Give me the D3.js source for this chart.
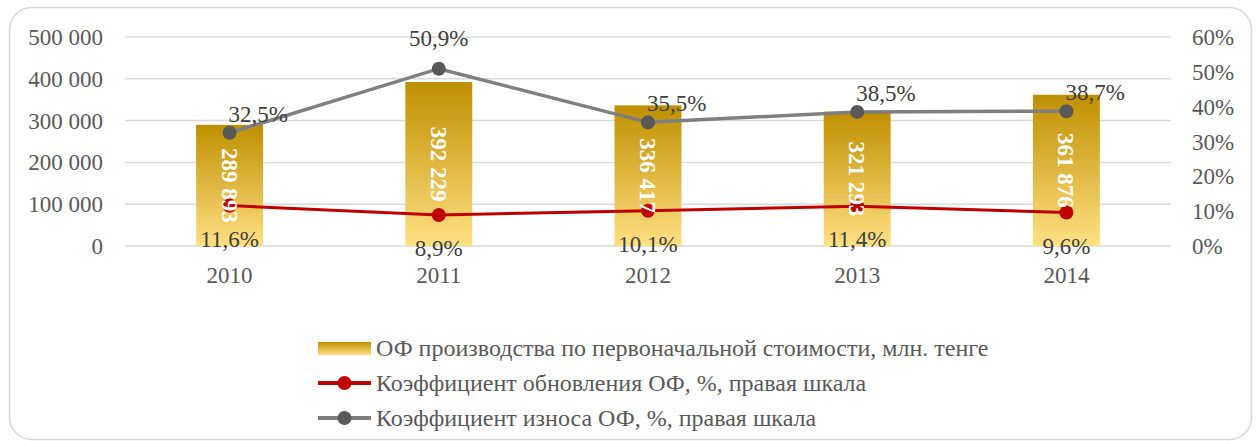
<!DOCTYPE html>
<html>
<head>
<meta charset="utf-8">
<script src="https://cdn.jsdelivr.net/npm/d3@7"></script>
<style>
  body { margin: 0; background: #fff; }
</style>
</head>
<body>
<div id="plot"></div>
<script>
var years = ['2010', '2011', '2012', '2013', '2014'];
var fundValues = [289893, 392229, 336417, 321293, 361876];
var renewRate = [11.6, 8.9, 10.1, 11.4, 9.6];
var wearRate = [32.5, 50.9, 35.5, 38.5, 38.7];
var leftTicks = [0, 100000, 200000, 300000, 400000, 500000];
var rightTicks = [0, 10, 20, 30, 40, 50, 60];
var legendLabels = ['ОФ производства по первоначальной стоимости, млн. тенге',
  'Коэффициент обновления ОФ, %, правая шкала',
  'Коэффициент износа ОФ, %, правая шкала'];
var wearAnchor = ['start', 'middle', 'start', 'start', 'start'];

var FONT = "'Liberation Serif'";
var W = 1257, H = 441;
var svg = d3.select('#plot').append('svg').attr('width', W).attr('height', H);

// рамка
svg.append('rect')
  .attr('x', 9.5).attr('y', 7.5)
  .attr('width', 1242).attr('height', 432)
  .attr('rx', 22).attr('ry', 22)
  .style('fill', '#fff').style('stroke', '#d9d9d9').style('stroke-width', 1.5);

var defs = svg.append('defs');
var grad = defs.append('linearGradient').attr('id', 'gold')
  .attr('x1', 0).attr('y1', 0).attr('x2', 0).attr('y2', 1);
grad.append('stop').attr('offset', '0%').attr('stop-color', '#bf8f00');
grad.append('stop').attr('offset', '100%').attr('stop-color', '#ffe083');

var x = d3.scaleBand().domain(years).range([125, 1171]).paddingInner(0.68).paddingOuter(0.34);
var yL = d3.scaleLinear().domain([0, 500000]).range([246, 37]);
var yR = d3.scaleLinear().domain([0, 60]).range([246, 37]);
var cx = function(d) { return x(d) + x.bandwidth() / 2; };
var fmt = function(v) { return d3.format(',')(v).replace(/,/g, ' '); };
var pct = function(v) { return v.toFixed(1).replace('.', ',') + '%'; };

// сетка
svg.selectAll('line.grid')
  .data(leftTicks).enter().append('line')
  .attr('class', 'grid')
  .attr('x1', 125).attr('x2', 1171)
  .attr('y1', function(d) { return yL(d); })
  .attr('y2', function(d) { return yL(d); })
  .style('stroke', '#d9d9d9').style('stroke-width', 1.5);

// оси
svg.selectAll('text.yl')
  .data(leftTicks).enter().append('text')
  .attr('x', 103).attr('y', function(d) { return yL(d); })
  .attr('dy', '0.35em').attr('text-anchor', 'end')
  .style('font-family', FONT).style('font-size', '23px').style('fill', '#595959')
  .text(function(d) { return fmt(d); });

svg.selectAll('text.yr')
  .data(rightTicks).enter().append('text')
  .attr('x', 1192).attr('y', function(d) { return yR(d); })
  .attr('dy', '0.35em').attr('text-anchor', 'start')
  .style('font-family', FONT).style('font-size', '23px').style('fill', '#595959')
  .text(function(d) { return d + '%'; });

svg.selectAll('text.xl')
  .data(years).enter().append('text')
  .attr('x', cx).attr('y', 283)
  .attr('text-anchor', 'middle')
  .style('font-family', FONT).style('font-size', '23px').style('fill', '#595959')
  .text(function(d) { return d; });

// столбцы
svg.selectAll('rect.bar')
  .data(fundValues).enter().append('rect')
  .attr('class', 'bar')
  .attr('x', function(d, i) { return x(years[i]); })
  .attr('width', x.bandwidth())
  .attr('y', function(d) { return yL(d); })
  .attr('height', function(d) { return yL(0) - yL(d); })
  .style('fill', 'url(#gold)');

// линии
var lineR = d3.line().x(function(d, i) { return cx(years[i]); }).y(function(d) { return yR(d); });

svg.append('path').datum(wearRate).attr('d', lineR)
  .style('fill', 'none').style('stroke', '#7f7f7f').style('stroke-width', 3.5);
svg.selectAll('circle.wear')
  .data(wearRate).enter().append('circle')
  .attr('cx', function(d, i) { return cx(years[i]); })
  .attr('cy', function(d) { return yR(d); })
  .attr('r', 7).style('fill', '#595959');

svg.append('path').datum(renewRate).attr('d', lineR)
  .style('fill', 'none').style('stroke', '#c00000').style('stroke-width', 3);
svg.selectAll('circle.renew')
  .data(renewRate).enter().append('circle')
  .attr('cx', function(d, i) { return cx(years[i]); })
  .attr('cy', function(d) { return yR(d); })
  .attr('r', 7).style('fill', '#c00000');

// подписи
svg.selectAll('text.bv')
  .data(fundValues).enter().append('text')
  .attr('transform', function(d, i) {
    return 'translate(' + cx(years[i]) + ',' + (yL(d) + yL(0)) / 2 + ') rotate(90)';
  })
  .attr('text-anchor', 'middle').attr('dy', '0.35em')
  .style('font-family', FONT).style('font-size', '23px').style('font-weight', 'bold').style('fill', '#fff')
  .text(function(d) { return fmt(d); });

svg.selectAll('text.wv')
  .data(wearRate).enter().append('text')
  .attr('x', function(d, i) { return cx(years[i]) + (wearAnchor[i] == 'start' ? -1 : 0); })
  .attr('y', function(d, i) { return yR(d) - (wearAnchor[i] == 'middle' ? 23 : 11); })
  .attr('text-anchor', function(d, i) { return wearAnchor[i]; })
  .style('font-family', FONT).style('font-size', '23px').style('fill', '#404040')
  .text(function(d) { return pct(d); });

svg.selectAll('text.rv')
  .data(renewRate).enter().append('text')
  .attr('x', function(d, i) { return cx(years[i]); })
  .attr('y', function(d) { return yR(d) + 41; })
  .attr('text-anchor', 'middle')
  .style('font-family', FONT).style('font-size', '23px').style('fill', '#404040')
  .text(function(d) { return pct(d); });

// легенда
var legend = svg.append('g').attr('transform', 'translate(318, 348)');
legendLabels.forEach(function(lbl, i) {
  var g = legend.append('g').attr('transform', 'translate(0,' + i * 35 + ')');
  if (i == 0) {
    g.append('rect').attr('x', 0).attr('y', -6).attr('width', 53).attr('height', 13)
      .style('fill', 'url(#gold)');
  } else {
    var col = i == 1 ? '#c00000' : '#7f7f7f';
    g.append('line').attr('x1', 0).attr('x2', 53).attr('y1', 0).attr('y2', 0)
      .style('stroke', col).style('stroke-width', 4);
    g.append('circle').attr('cx', 26.5).attr('cy', 0).attr('r', 7)
      .style('fill', i == 1 ? '#c00000' : '#595959');
  }
  g.append('text').attr('x', 58).attr('y', 0).attr('dy', '0.35em')
    .style('font-family', FONT).style('font-size', '24px').style('fill', '#595959')
    .text(lbl);
});
</script>
</body>
</html>
